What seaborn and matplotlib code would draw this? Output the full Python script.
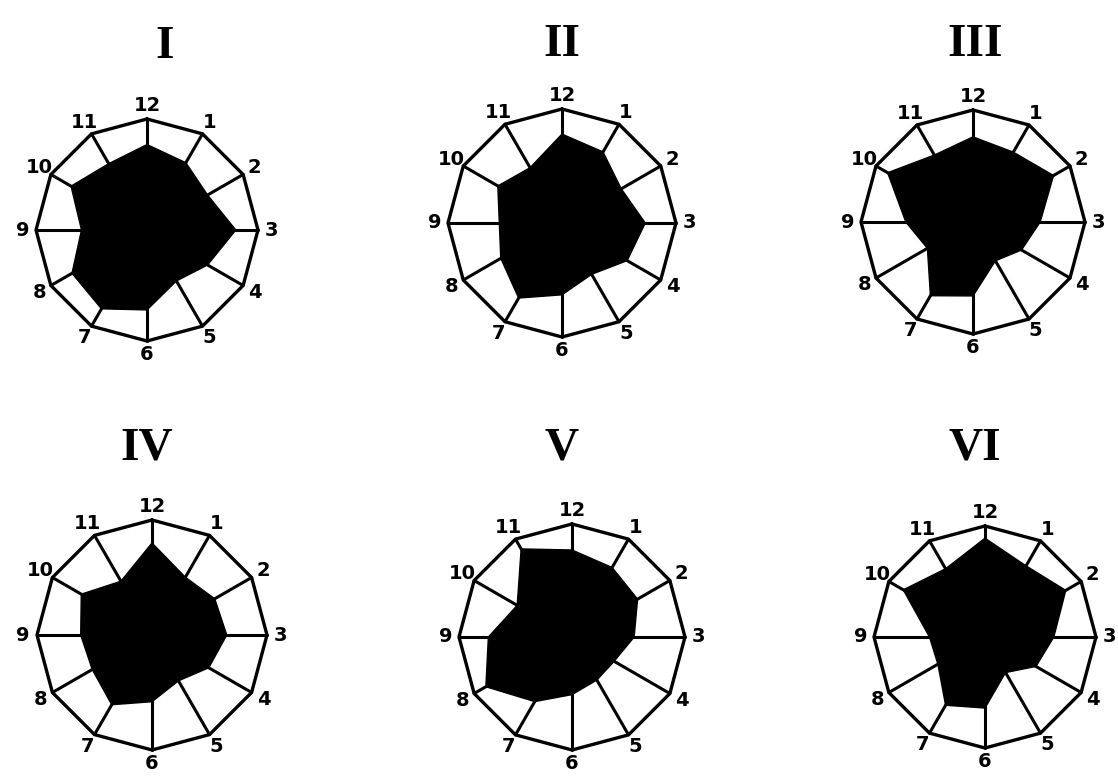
import numpy as np
import matplotlib
matplotlib.use("Agg")
import matplotlib.pyplot as plt
import seaborn as sns

# hours around the dial, starting at the top and going clockwise
hours = [12, 1, 2, 3, 4, 5, 6, 7, 8, 9, 10, 11]
panel_names = ["I", "II", "III", "IV", "V", "VI"]

# relative length of the black sector on each hour spoke (outer ring = 1)
vals_I = [0.77, 0.70, 0.63, 0.80, 0.63, 0.53, 0.72, 0.82, 0.78, 0.59, 0.79, 0.69]
vals_II = [0.78, 0.72, 0.60, 0.73, 0.66, 0.52, 0.63, 0.76, 0.62, 0.55, 0.65, 0.56]
vals_III = [0.76, 0.72, 0.83, 0.60, 0.50, 0.40, 0.66, 0.76, 0.47, 0.60, 0.88, 0.69]
vals_IV = [0.80, 0.58, 0.63, 0.65, 0.57, 0.46, 0.58, 0.70, 0.60, 0.62, 0.71, 0.54]
vals_V = [0.77, 0.71, 0.67, 0.55, 0.43, 0.44, 0.51, 0.66, 0.88, 0.74, 0.56, 0.90]
vals_VI = [0.89, 0.74, 0.84, 0.62, 0.53, 0.37, 0.64, 0.71, 0.49, 0.50, 0.85, 0.71]

panel_vals = [vals_I, vals_II, vals_III, vals_IV, vals_V, vals_VI]

# layout in pixels (figure is 1118 x 777)
W, H = 1118, 777
centers = [(147, 230), (562, 223), (973, 222), (152, 635), (572, 637), (985, 637)]
radii = [111, 114, 112, 115, 113, 111]
title_pos = [(165, 47), (562, 45), (975, 45), (147, 448), (562, 448), (975, 448)]

sns.set_style("white")

fig = plt.figure(figsize=(W / 100, H / 100), dpi=100)
fig.patch.set_facecolor("white")

theta = np.deg2rad(np.arange(12) * 30)
lim = 1.3

for name, vals, (cx, cy), R, (tx, ty) in zip(panel_names, panel_vals, centers, radii, title_pos):
    half = R * lim
    ax = fig.add_axes([(cx - half) / W, 1 - (cy + half) / H, 2 * half / W, 2 * half / H],
                      projection="polar")
    ax.set_theta_zero_location("N")
    ax.set_theta_direction(-1)
    ax.set_ylim(0, lim)
    ax.grid(False)
    ax.set_xticks([])
    ax.set_yticks([])
    ax.spines["polar"].set_visible(False)
    ax.set_facecolor("none")

    v = np.array(vals)
    # black sector
    ax.fill(np.append(theta, theta[0]), np.append(v, v[0]), color="black", zorder=2)

    # outer 12-gon
    ring = np.append(theta, theta[0])
    sns.lineplot(x=ring, y=np.ones_like(ring), sort=False, estimator=None,
                 color="black", linewidth=2.4, ax=ax, zorder=3)

    # spokes from the black area to the rim
    for t, r in zip(theta, v):
        ax.plot([t, t], [r - 0.02, 1.0], color="black", linewidth=2.2, zorder=3)

    # hour numbers
    for t, h in zip(theta, hours):
        ax.text(t, 1.12, str(h), ha="center", va="center", fontsize=14,
                fontweight="bold", family="DejaVu Sans", color="black")

    fig.text(tx / W, 1 - ty / H, name, ha="center", va="center", fontsize=34,
             fontweight="bold", family="Liberation Serif", color="black")

fig.savefig("out.png", dpi=100, facecolor="white")
